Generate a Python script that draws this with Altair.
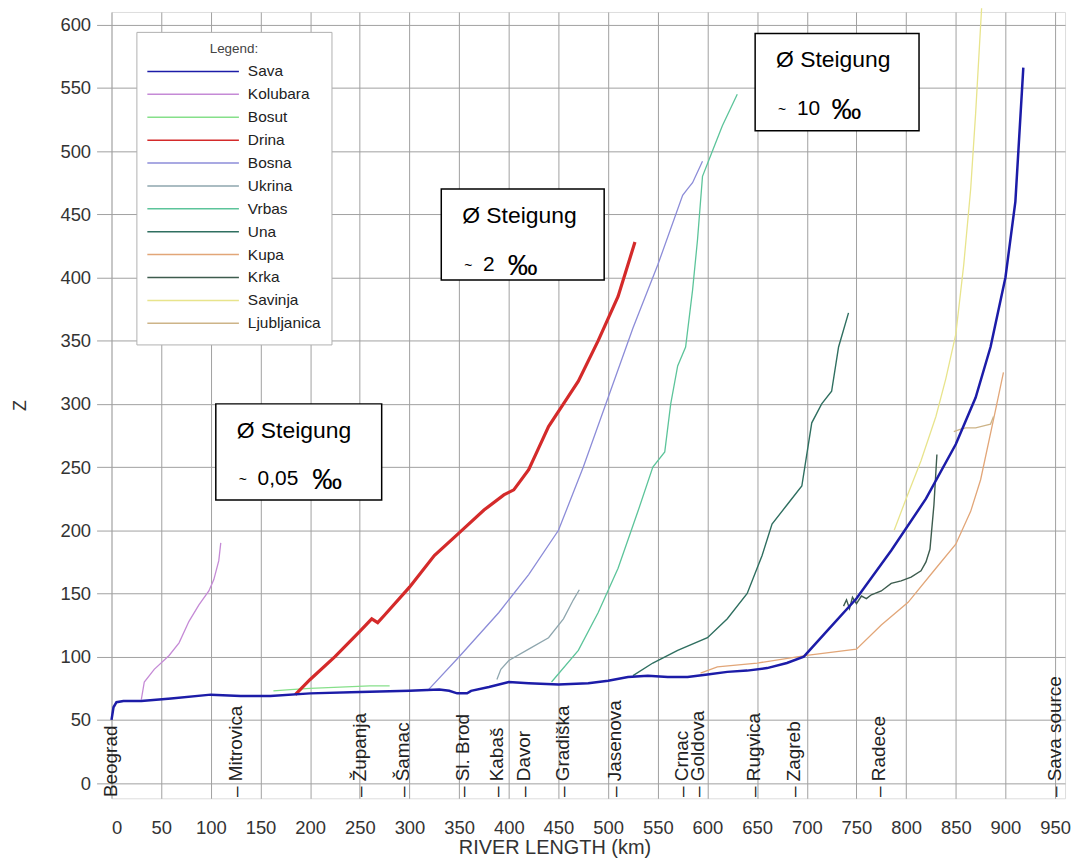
import altair as alt
import pandas as pd

rivers = ["Sava", "Kolubara", "Bosut", "Drina", "Bosna", "Ukrina", "Vrbas",
          "Una", "Kupa", "Krka", "Savinja", "Ljubljanica"]
colors = ["#1c1ca8", "#c58ad6", "#86e08a", "#d42a2a", "#8c8cd8", "#8ea6ae",
          "#5cc49a", "#2f6f60", "#e2a678", "#3d5c4e", "#e8e48c", "#cdb488"]
widths = [3.8, 1.3, 1.3, 3.2, 1.3, 1.3, 1.3, 1.4, 1.3, 1.4, 1.3, 1.3]

sava_km = [0, 2, 5, 12, 30, 60, 100, 130, 160, 200, 250, 300, 330, 340, 348, 358, 362,
           380, 400, 420, 450, 480, 500, 520, 540, 560, 580, 600, 620, 640, 660, 680,
           697, 720, 750, 785, 820, 850, 870, 885, 900, 910, 918]
sava_z = [50, 60, 64, 65, 65, 67, 70, 69, 69, 71, 72, 73, 74, 73, 71, 71, 73,
          76, 80, 79, 78, 79, 81, 84, 85, 84, 84, 86, 88, 89, 91, 95,
          100, 120, 146, 184, 225, 268, 305, 345, 400, 460, 566]

kolubara_km = [30, 33, 43, 58, 68, 78, 88, 98, 103, 108, 110]
kolubara_z = [66, 80, 90, 101, 111, 128, 141, 152, 161, 176, 190]

bosut_km = [163, 180, 200, 230, 260, 280]
bosut_z = [73, 74, 75, 76, 77, 77]

drina_km = [185, 200, 225, 250, 262, 268, 275, 300, 325, 350, 375, 395, 405, 420,
            430, 440, 455, 470, 490, 510, 527]
drina_z = [70, 82, 100, 120, 130, 127, 133, 155, 180, 198, 216, 228, 232, 248,
           265, 282, 300, 318, 350, 385, 428]

bosna_km = [318, 350, 390, 420, 450, 475, 500, 525, 550, 575, 580, 585, 595]
bosna_z = [73, 100, 135, 165, 200, 250, 305, 360, 410, 465, 470, 475, 492]

ukrina_km = [388, 392, 400, 420, 440, 455, 465, 471]
ukrina_z = [82, 90, 97, 106, 115, 130, 145, 153]

vrbas_km = [443, 470, 490, 510, 530, 545, 557, 563, 570, 578, 585, 590, 595, 605, 615, 630]
vrbas_z = [80, 105, 135, 170, 215, 250, 262, 300, 330, 345, 390, 430, 480, 500, 520, 545]

una_km = [525, 545, 570, 600, 620, 640, 655, 665, 680, 695, 705, 715, 725, 732, 742]
una_z = [85, 95, 105, 115, 130, 150, 180, 205, 220, 235, 285, 300, 310, 345, 372]

kupa_km = [593, 610, 650, 700, 750, 775, 802, 830, 850, 865, 875, 890, 898]
kupa_z = [87, 92, 95, 101, 106, 125, 143, 170, 189, 215, 240, 295, 325]

krka_km = [737, 740, 743, 746, 750, 755, 760, 765, 775, 785, 795, 805, 815, 820, 824, 828, 831]
krka_z = [140, 145, 138, 147, 142, 148, 146, 149, 152, 158, 160, 163, 168, 175, 185, 220, 260]

savinja_km = [788, 800, 815, 830, 840, 850, 858, 865, 870, 876]
savinja_z = [200, 225, 255, 290, 320, 355, 410, 470, 530, 613]

ljubljanica_km = [848, 855, 860, 870, 880, 885, 888]
ljubljanica_z = [278, 280, 281, 281, 283, 284, 290]

series = {
    "Sava": (sava_km, sava_z), "Kolubara": (kolubara_km, kolubara_z),
    "Bosut": (bosut_km, bosut_z), "Drina": (drina_km, drina_z),
    "Bosna": (bosna_km, bosna_z), "Ukrina": (ukrina_km, ukrina_z),
    "Vrbas": (vrbas_km, vrbas_z), "Una": (una_km, una_z),
    "Kupa": (kupa_km, kupa_z), "Krka": (krka_km, krka_z),
    "Savinja": (savinja_km, savinja_z), "Ljubljanica": (ljubljanica_km, ljubljanica_z),
}

station_names = ["Beograd", "– Mitrovica", "– Županja", "– Šamac", "– Sl. Brod", "– Kabaš",
                 "– Davor", "– Gradiška", "– Jasenova", "– Crnac", "– Goldova", "– Rugvica",
                 "– Zagreb", "– Radece", "– Sava source"]
station_km = [0, 125, 250, 293, 354, 388, 415, 455, 507, 574, 591, 647, 687, 773, 950]

# annotation boxes (data units)
box_left = [105, 332, 648]
box_right = [272, 496, 813]
box_top = [300, 470, 593]
box_bottom = [224, 398, 516]
box_line1 = ["Ø  Steigung", "Ø  Steigung", "Ø  Steigung"]
box_value = ["0,05", "2", "10"]
box_permille_km = [202, 399, 725]

rows = []
for r in rivers:
    ks, zs = series[r]
    for i, (k, z) in enumerate(zip(ks, zs)):
        rows.append({"river": r, "km": k, "z": z, "i": i})
df = pd.DataFrame(rows)

stations = pd.DataFrame({"name": station_names, "km": station_km})
boxes = pd.DataFrame({"l": box_left, "r": box_right, "t": box_top, "b": box_bottom,
                      "line1": box_line1, "val": box_value, "pm": box_permille_km,
                      "sym": ["‰"] * 3, "tilde": ["~"] * 3})

FONT = "Liberation Sans"
GRID = "#a0a0a0"
xs = alt.Scale(domain=[0, 960], nice=False, zero=False)
ys = alt.Scale(domain=[-12, 610], nice=False, zero=False)

color_enc = alt.Color("river:N", scale=alt.Scale(domain=rivers, range=colors),
                      legend=alt.Legend(orient="none", legendX=25, legendY=20, title="Legend:",
                                        titleAnchor="middle", titleFontSize=13.5,
                                        titleFontWeight="normal", titleColor="#444",
                                        titleFont=FONT, titlePadding=5, symbolType="stroke",
                                        symbolSize=8464, clipHeight=22.5, rowPadding=0,
                                        labelFontSize=15.5, labelFont=FONT, labelColor="#222",
                                        labelOffset=8, fillColor="white", strokeColor="#b0b0b0",
                                        padding=10))
sw_enc = alt.StrokeWidth("river:N", scale=alt.Scale(type="ordinal", domain=rivers, range=widths),
                         legend=None)

xenc = alt.X("km:Q", scale=xs,
             axis=alt.Axis(values=list(range(0, 951, 50)), title="RIVER LENGTH (km)",
                           labelFontSize=18.5, labelFont=FONT, labelColor="#333",
                           titleFontSize=20, titleFont=FONT, titleFontWeight="normal",
                           titleColor="#333", titlePadding=1, tickSize=0, labelPadding=20,
                           titleX=445, titleAlign="center",
                           domain=False, gridColor=GRID, gridWidth=1))
yenc = alt.Y("z:Q", scale=ys,
             axis=alt.Axis(values=list(range(0, 601, 50)), title="Z",
                           labelFontSize=18.5, labelFont=FONT, labelColor="#333",
                           titleFontSize=18, titleFont=FONT, titleFontWeight="normal",
                           titleColor="#333", titlePadding=31, tickSize=15, tickColor=GRID,
                           labelPadding=6, domain=False, gridColor=GRID, gridWidth=1))

tribs = alt.Chart(df).transform_filter(alt.datum.river != "Sava").mark_line().encode(
    x=xenc, y=yenc, color=color_enc, strokeWidth=sw_enc, order="i:Q", detail="river:N")
sava = alt.Chart(df).transform_filter(alt.datum.river == "Sava").mark_line().encode(
    x="km:Q", y="z:Q", color=alt.Color("river:N"), strokeWidth=alt.StrokeWidth("river:N"),
    order="i:Q")

rects = alt.Chart(boxes).mark_rect(fill="white", stroke="black", strokeWidth=1.5).encode(
    x="l:Q", x2="r:Q", y="t:Q", y2="b:Q")
t1 = alt.Chart(boxes).mark_text(align="left", baseline="middle", dx=21, dy=27, fontSize=23,
                                font=FONT, color="black").encode(x="l:Q", y="t:Q", text="line1:N")
t_tilde = alt.Chart(boxes).mark_text(align="left", baseline="middle", dx=23, dy=77, fontSize=14,
                                     font=FONT, color="black").encode(x="l:Q", y="t:Q", text="tilde:N")
t2 = alt.Chart(boxes).mark_text(align="left", baseline="middle", dx=42, dy=76, fontSize=21,
                                font=FONT, color="black").encode(x="l:Q", y="t:Q", text="val:N")
t3 = alt.Chart(boxes).mark_text(align="left", baseline="middle", dy=77, fontSize=30,
                                font=FONT, color="black").encode(x="pm:Q", y="t:Q", text="sym:N")

st = alt.Chart(stations).mark_text(angle=270, align="left", baseline="middle", fontSize=19,
                                   font=FONT, color="#222").encode(
    x="km:Q", y=alt.datum(-11), text="name:N")

chart = alt.layer(tribs, sava, rects, t1, t_tilde, t2, t3, st).properties(
    width=958, height=790,
    autosize=alt.AutoSizeParams(type="none"),
    padding={"left": 104, "top": 2, "right": 8, "bottom": 62},
).configure_view(stroke=None).configure(background="white")

chart.save("out.html", embed_options={"renderer": "svg", "actions": False})
